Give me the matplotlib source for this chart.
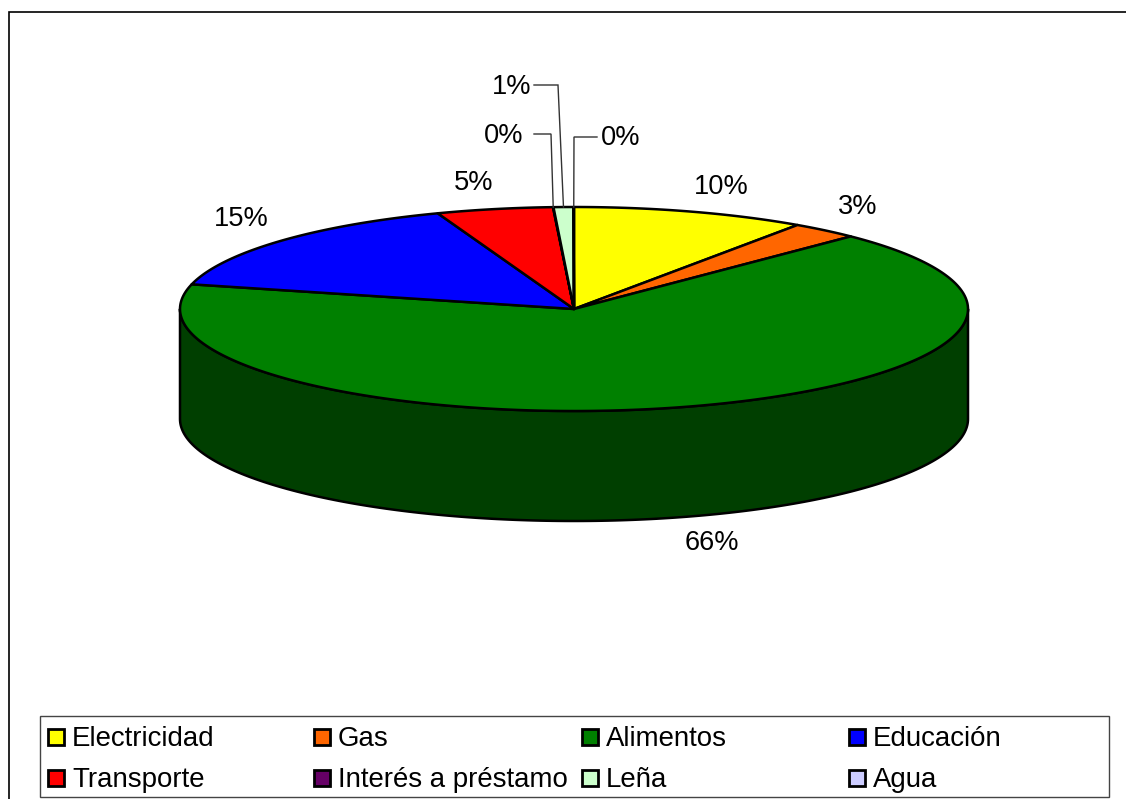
import numpy as np
import matplotlib
matplotlib.use('Agg')
import matplotlib.pyplot as plt
from matplotlib.patches import Polygon, Rectangle

# Values (percent of total)
categories = ['Electricidad', 'Gas', 'Alimentos', 'Educación',
              'Transporte', 'Interés a préstamo', 'Leña', 'Agua']
values = [9.6, 2.8, 66.49, 15.49, 4.77, 0.02, 0.81, 0.02]
colors = ['#FFFF00', '#FF6600', '#008000', '#0000FF',
          '#FF0000', '#660066', '#CCFFCC', '#CCCCFF']
side_colors = {'Alimentos': '#003F00'}

# Layout, in pixels of the 1126x799 picture
CX, CY = 574, 309
RX, RY = 394, 102
DEPTH = 110
label_pos = [(721, 187), (858, 207), (712, 543), (241, 219),
             (474, 183), (504, 136), (512, 87), (621, 138)]
leader_pts = {
    'Interés a préstamo': [(534, 134), (551, 134)],
    'Leña': [(534, 85), (558, 85)],
    'Agua': [(597, 137), (574, 137)],
}
legend_cols = [48, 314, 582, 849]
legend_rows = [737, 778]

plt.rcParams['font.family'] = ['Liberation Sans', 'DejaVu Sans']
FONT = 19.6
LEGEND_FONT = 19.9
LW = 1.8

fig = plt.figure(figsize=(11.26, 7.99), dpi=100)
ax = fig.add_axes([0, 0, 1, 1])
ax.set_xlim(0, 1126)
ax.set_ylim(799, 0)
ax.axis('off')


# angle is clockwise from the top of the pie, in percent
def rim(pct, dy=0):
    a = np.asarray(pct) / 100 * 2 * np.pi
    return np.column_stack([CX + RX * np.sin(a), CY + dy - RY * np.cos(a)])


# Outer frame runs off the right and bottom of the picture
ax.add_patch(Rectangle((9, 12), 1200, 900, fc='white', ec='black', lw=1.2))

edges = np.concatenate([[0], np.cumsum(values)])
edges = edges / edges[-1] * 100

# Side wall first, only the front half of the rim shows
for name, start, end in zip(categories, edges[:-1], edges[1:]):
    lo, hi = max(start, 25), min(end, 75)
    if hi <= lo:
        continue
    t = np.linspace(lo, hi, 200)
    pts = np.vstack([rim(t), rim(t[::-1], DEPTH)])
    ax.add_patch(Polygon(pts, closed=True, fc=side_colors.get(name, '#333333'),
                         ec='black', lw=LW, joinstyle='round'))

# Top face
for name, col, start, end in zip(categories, colors, edges[:-1], edges[1:]):
    t = np.linspace(start, end, max(int((end - start) * 4), 2))
    pts = np.vstack([[(CX, CY)], rim(t)])
    ax.add_patch(Polygon(pts, closed=True, fc=col, ec='black', lw=LW,
                         joinstyle='round'))

# Percent labels with leader lines for the thin slices
mids = (edges[:-1] + edges[1:]) / 2
for i, name in enumerate(categories):
    ax.text(*label_pos[i], f'{int(round(values[i]))}%', fontsize=FONT,
            ha='center', va='center', color='black')
    if name in leader_pts:
        end = rim(mids[i])[0]
        pts = leader_pts[name] + [tuple(end)]
        ax.plot(*zip(*pts), color='#333333', lw=1.0, solid_joinstyle='miter')

# Legend
ax.add_patch(Rectangle((40, 716), 1069, 81, fc='white', ec='#444444', lw=1.0))
for i, (name, col) in enumerate(zip(categories, colors)):
    x = legend_cols[i % 4]
    y = legend_rows[i // 4]
    ax.add_patch(Rectangle((x, y - 8), 16, 16, fc=col, ec='black', lw=2.0))
    ax.text(x + 24, y + 2, name, fontsize=LEGEND_FONT, ha='left', va='center',
            color='black')

fig.savefig('out.png', dpi=100)
